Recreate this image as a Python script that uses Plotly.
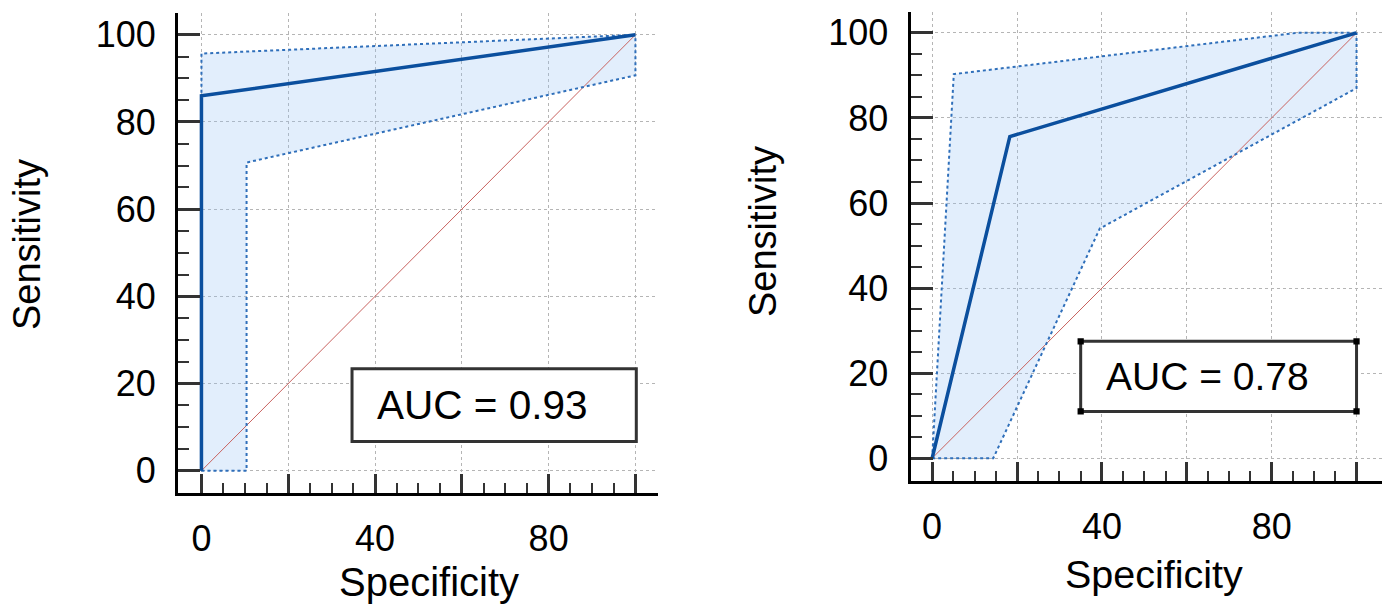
import plotly.graph_objects as go

# ---------------- data ----------------
# Left panel (AUC = 0.93)
roc1_spec = [0, 0, 100]
roc1_sens = [0, 86, 100]
ci1_upper_spec = [0, 0, 100]
ci1_upper_sens = [0, 95.7, 100]
ci1_lower_spec = [0, 10.4, 10.4, 100, 100]
ci1_lower_sens = [0, 0, 70.7, 90.7, 100]
auc1_label = "AUC = 0.93"

# Right panel (AUC = 0.78)
roc2_spec = [0, 18.3, 100]
roc2_sens = [0, 75.6, 100]
ci2_upper_spec = [0, 5.1, 86, 100]
ci2_upper_sens = [0, 90.3, 100, 100]
ci2_lower_spec = [0, 14.4, 39.5, 100, 100]
ci2_lower_sens = [0, 0, 54, 87, 100]
auc2_label = "AUC = 0.78"

diag = [0, 100]

major_vals = [0, 20, 40, 60, 80, 100]
x_ticktext = ["0", "", "40", "", "80", ""]
y_ticktext = ["0", "20", "40", "60", "80", "100"]
minor_vals = [5, 10, 15, 25, 30, 35, 45, 50, 55, 65, 70, 75, 85, 90, 95]

FONT = "Arial, Liberation Sans, sans-serif"
ROC_COLOR = "#0b4f9e"
CI_COLOR = "#2f6fba"
FILL = "rgba(150,195,245,0.28)"
DIAG_COLOR = "#c8625f"

fig = go.Figure()


def add_panel(xa, ya, roc_x, roc_y, up_x, up_y, lo_x, lo_y):
    poly_x = list(up_x) + list(reversed(lo_x))
    poly_y = list(up_y) + list(reversed(lo_y))
    fig.add_trace(go.Scatter(x=poly_x, y=poly_y, xaxis=xa, yaxis=ya, mode="lines",
                             fill="toself", fillcolor=FILL, line=dict(width=0),
                             hoverinfo="skip", showlegend=False))
    fig.add_trace(go.Scatter(x=diag, y=diag, xaxis=xa, yaxis=ya, mode="lines",
                             line=dict(color=DIAG_COLOR, width=1), showlegend=False))
    fig.add_trace(go.Scatter(x=up_x, y=up_y, xaxis=xa, yaxis=ya, mode="lines",
                             line=dict(color=CI_COLOR, width=2, dash="dot"), showlegend=False))
    fig.add_trace(go.Scatter(x=lo_x, y=lo_y, xaxis=xa, yaxis=ya, mode="lines",
                             line=dict(color=CI_COLOR, width=2, dash="dot"), showlegend=False))
    fig.add_trace(go.Scatter(x=roc_x, y=roc_y, xaxis=xa, yaxis=ya, mode="lines",
                             line=dict(color=ROC_COLOR, width=3.5), showlegend=False))


add_panel("x", "y", roc1_spec, roc1_sens, ci1_upper_spec, ci1_upper_sens, ci1_lower_spec, ci1_lower_sens)
add_panel("x2", "y2", roc2_spec, roc2_sens, ci2_upper_spec, ci2_upper_sens, ci2_lower_spec, ci2_lower_sens)

W, H = 1383, 607


def xaxis(domain, rng):
    return dict(domain=domain, range=rng, showline=True, linecolor="black", linewidth=3,
                tickmode="array", tickvals=major_vals, ticktext=x_ticktext,
                ticks="inside", ticklen=19, tickwidth=3, tickcolor="#333",
                showgrid=True, gridcolor="#b5b5b5", gridwidth=1, griddash="dot",
                zeroline=False, tickfont=dict(family=FONT, size=36, color="black"),
                ticklabelstandoff=12,
                minor=dict(tickmode="array", tickvals=minor_vals, ticks="inside",
                           ticklen=10, tickwidth=1.5, tickcolor="#333", showgrid=False),
                fixedrange=True)


def yaxis(domain, rng, anchor):
    return dict(domain=domain, range=rng, anchor=anchor, showline=True, linecolor="black", linewidth=3,
                tickmode="array", tickvals=major_vals, ticktext=y_ticktext,
                ticks="inside", ticklen=22, tickwidth=3, tickcolor="#333",
                showgrid=True, gridcolor="#b5b5b5", gridwidth=1, griddash="dot",
                zeroline=False, tickfont=dict(family=FONT, size=36, color="black"),
                ticklabelstandoff=12,
                minor=dict(tickmode="array", tickvals=minor_vals, ticks="inside",
                           ticklen=11, tickwidth=1.5, tickcolor="#333", showgrid=False),
                fixedrange=True)


fig.update_layout(
    width=W, height=H,
    margin=dict(l=0, r=0, t=0, b=0),
    paper_bgcolor="white", plot_bgcolor="white",
    xaxis=dict(xaxis([178 / W, 658 / W], [-5.4, 105.2]), anchor="y"),
    yaxis=yaxis([1 - 493 / H, 1 - 13 / H], [-5.1, 105], "x"),
    xaxis2=dict(xaxis([910.5 / W, 1382 / W], [-5.1, 106]), anchor="y2"),
    yaxis2=yaxis([1 - 481 / H, 1 - 12 / H], [-5.35, 104.9], "x2"),
)

# AUC boxes
box_style = dict(type="rect", line=dict(color="#333", width=3), fillcolor="white", layer="above")
fig.add_shape(xref="x", yref="y", x0=34.7, x1=100.2, y0=6.7, y1=23.4, **box_style)
fig.add_shape(xref="x2", yref="y2", x0=35, x1=100, y0=11, y1=27.5, **box_style)
# corner squares on right box
for cx in (35, 100):
    for cy in (11, 27.5):
        fig.add_shape(type="rect", xref="x2", yref="y2", x0=cx - 0.5, x1=cx + 0.5,
                      y0=cy - 0.5, y1=cy + 0.5, line=dict(color="black", width=2),
                      fillcolor="black", layer="above")

fig.add_annotation(xref="x", yref="y", x=40, y=15, text=auc1_label, showarrow=False,
                   xanchor="left", yanchor="middle", font=dict(family=FONT, size=40.5, color="black"))
fig.add_annotation(xref="x2", yref="y2", x=40.5, y=19.2, text=auc2_label, showarrow=False,
                   xanchor="left", yanchor="middle", font=dict(family=FONT, size=39, color="black"))

# axis titles
fig.add_annotation(xref="paper", yref="paper", x=429 / W, y=1 - 582 / H, text="Specificity",
                   showarrow=False, xanchor="center", yanchor="middle",
                   font=dict(family=FONT, size=40, color="black"))
fig.add_annotation(xref="paper", yref="paper", x=1154 / W, y=1 - 574 / H, text="Specificity",
                   showarrow=False, xanchor="center", yanchor="middle",
                   font=dict(family=FONT, size=39.5, color="black"))
fig.add_annotation(xref="paper", yref="paper", x=27 / W, y=1 - 245 / H, text="Sensitivity",
                   showarrow=False, xanchor="center", yanchor="middle", textangle=-90,
                   font=dict(family=FONT, size=38, color="black"))
fig.add_annotation(xref="paper", yref="paper", x=763 / W, y=1 - 232 / H, text="Sensitivity",
                   showarrow=False, xanchor="center", yanchor="middle", textangle=-90,
                   font=dict(family=FONT, size=38, color="black"))

fig.write_html("out.html", config={"displayModeBar": False},
               post_script="document.body.style.margin='0';document.body.style.overflow='hidden';")
